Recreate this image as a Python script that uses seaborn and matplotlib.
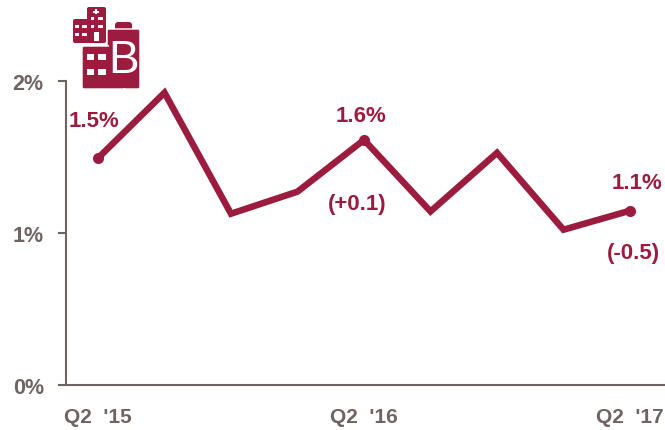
import pandas as pd
import seaborn as sns
import matplotlib.pyplot as plt
from matplotlib.patches import FancyBboxPatch, Rectangle

quarters = ["Q2 '15", "Q3 '15", "Q4 '15", "Q1 '16", "Q2 '16", "Q3 '16", "Q4 '16", "Q1 '17", "Q2 '17"]
rates = [1.49, 1.92, 1.125, 1.27, 1.61, 1.14, 1.525, 1.02, 1.145]
y_ticks = [0, 1, 2]
y_labels = ["0%", "1%", "2%"]
x_labels = {0: "Q2  '15", 4: "Q2  '16", 8: "Q2  '17"}

RED = "#9b1c3f"
GREY = "#6e6462"
W, H = 665, 431

sns.set_theme(style="white")
plt.rcParams['font.family'] = ['Liberation Sans Narrow', 'Liberation Sans', 'DejaVu Sans']

df = pd.DataFrame({"i": range(len(rates)), "rate": rates})

fig = plt.figure(figsize=(W / 100, H / 100), dpi=100)
ax = fig.add_axes([66 / W, 1 - 386 / H, (665 - 66) / W, (386 - 81.5) / H])

sns.lineplot(data=df, x="i", y="rate", ax=ax, color=RED, linewidth=4.7,
             marker="o", markersize=8, markeredgewidth=0, markevery=[0, 4, 8],
             solid_joinstyle="miter", solid_capstyle="butt", clip_on=False)

ax.set_xlim(-0.481, 8.526)
ax.set_ylim(0, 2)
ax.set_xlabel("")
ax.set_ylabel("")
sns.despine(ax=ax)
for s in ["left", "bottom"]:
    ax.spines[s].set_color(GREY)
    ax.spines[s].set_linewidth(1.5)

ax.set_yticks(y_ticks)
ax.set_yticklabels(y_labels, fontsize=15.5, color=GREY, fontweight="bold")
ax.tick_params(axis="y", length=6, width=1.5, color=GREY, pad=10, left=True)
ax.set_xticks(list(x_labels))
ax.set_xticklabels(list(x_labels.values()), fontsize=15, color=GREY, fontweight="bold")
ax.tick_params(axis="x", length=0, pad=16)

# value labels
lab = dict(color=RED, fontsize=16, fontweight="bold", ha="center", va="center")
ax.annotate("1.5%", (0, rates[0]), xytext=(-4, 38), textcoords="offset pixels", **lab)
ax.annotate("1.6%", (4, rates[4]), xytext=(-3, 24), textcoords="offset pixels", **lab)
ax.annotate("(+0.1)", (4, rates[4]), xytext=(-7, -64), textcoords="offset pixels", **lab)
ax.annotate("1.1%", (8, rates[8]), xytext=(7, 28), textcoords="offset pixels", **lab)
ax.annotate("(-0.5)", (8, rates[8]), xytext=(3, -42), textcoords="offset pixels", **lab)

# hospital / building icon, in pixel coordinates
ic = fig.add_axes([0, 0, 1, 1], facecolor="none")
ic.set_xlim(0, W)
ic.set_ylim(H, 0)
ic.axis("off")


def rbox(x0, y0, x1, y1, fc=RED, r=2, ec="none", lw=0):
    ic.add_patch(FancyBboxPatch((x0 + r, y0 + r), x1 - x0 - 2 * r, y1 - y0 - 2 * r,
                                boxstyle=f"round,pad={r}", fc=fc, ec=ec, lw=lw))


def win(x0, y0, x1, y1, fc="white"):
    ic.add_patch(Rectangle((x0, y0), x1 - x0, y1 - y0, fc=fc, ec="none"))


# small hospital
rbox(87, 8, 106, 30)
rbox(73, 20, 106, 44)
win(95, 10, 97, 15)
win(93, 11.5, 99, 13.5)
for x0, x1 in ((91, 94), (98, 103)):
    win(x0, 18, x1, 21)
for x0, x1 in ((75, 79), (82, 87), (91, 94), (98, 103)):
    win(x0, 26, x1, 29)
for x0, x1 in ((75, 79), (82, 87)):
    win(x0, 34, x1, 37)
win(94, 33, 99, 42)

# big building with the B
rbox(115, 23, 132, 36, r=3)
rbox(107, 30, 140, 90, r=2, ec="white", lw=1.0)
rbox(82, 47, 125, 90, r=2, ec="white", lw=1.0)
win(109, 32, 139, 89, fc=RED)
win(100, 48.5, 124, 89, fc=RED)
for y in (55, 70):
    for x0, x1 in ((87, 94), (98, 106)):
        win(x0, y, x1, y + 6)
ic.text(123.5, 61, "B", color="white", fontsize=33, ha="center", va="center",
        family=["Liberation Sans", "DejaVu Sans"])

fig.savefig("out.png", dpi=100, facecolor="white")
